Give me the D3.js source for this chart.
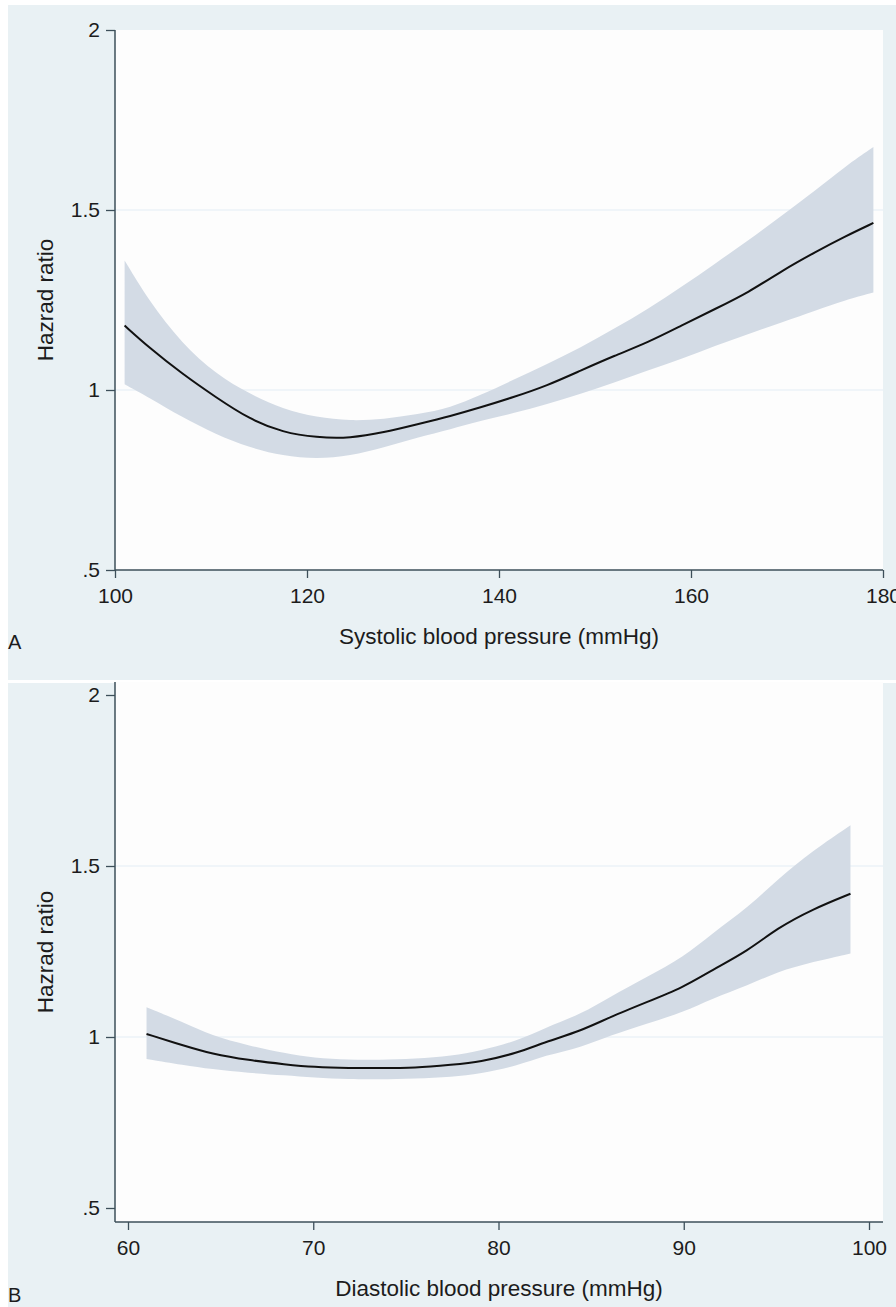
<!DOCTYPE html>
<html>
<head>
<meta charset="utf-8">
<script src="https://cdn.jsdelivr.net/npm/d3@7"></script>
<style>
  body { margin: 0; background: #fff; }
  text { font-family: 'Liberation Sans', Arial, sans-serif; fill: #1c1c1c; }
</style>
</head>
<body>
<div id="chart"></div>
<script>
// hazard ratio axis, shared by both panels
const yTicks = [0.5, 1, 1.5, 2]
const yGrid = [1, 1.5]

// panel A: systolic
const sbpTicks = [100, 120, 140, 160, 180]
const sbp = [101, 103.5, 107, 110.5, 114, 117.5, 121, 124.5, 128, 131.5, 135, 138, 141.5, 145, 148.5, 152, 155.5, 159, 162.5, 166, 169.5, 173, 176, 179]
const sbpHR = [1.179, 1.119, 1.045, 0.98, 0.919, 0.882, 0.868, 0.866, 0.882, 0.905, 0.928, 0.951, 0.98, 1.012, 1.054, 1.095, 1.132, 1.179, 1.225, 1.271, 1.332, 1.384, 1.426, 1.464]
const sbpHi = [1.36, 1.249, 1.128, 1.045, 0.989, 0.947, 0.924, 0.914, 0.919, 0.932, 0.951, 0.985, 1.028, 1.072, 1.118, 1.17, 1.225, 1.286, 1.351, 1.416, 1.485, 1.555, 1.62, 1.675]
const sbpLo = [1.016, 0.98, 0.924, 0.877, 0.84, 0.817, 0.808, 0.817, 0.84, 0.868, 0.891, 0.914, 0.935, 0.961, 0.989, 1.021, 1.054, 1.086, 1.123, 1.156, 1.188, 1.221, 1.249, 1.271]

// panel B: diastolic
const dbpTicks = [60, 70, 80, 90, 100]
const dbp = [61, 63, 64.5, 66.5, 68.5, 70, 72, 73.5, 75.5, 77.5, 79, 81, 82.5, 84.5, 86, 88, 90, 91.5, 93.5, 95, 97, 99]
const dbpHR = [1.009, 0.975, 0.951, 0.932, 0.92, 0.912, 0.909, 0.909, 0.909, 0.919, 0.927, 0.953, 0.985, 1.019, 1.058, 1.102, 1.146, 1.195, 1.253, 1.317, 1.375, 1.419]
const dbpHi = [1.087, 1.043, 1.004, 0.975, 0.952, 0.939, 0.933, 0.933, 0.936, 0.945, 0.96, 0.988, 1.027, 1.068, 1.117, 1.175, 1.234, 1.302, 1.38, 1.458, 1.546, 1.619]
const dbpLo = [0.936, 0.918, 0.906, 0.895, 0.888, 0.881, 0.876, 0.876, 0.878, 0.883, 0.893, 0.915, 0.946, 0.97, 1.004, 1.039, 1.073, 1.112, 1.151, 1.19, 1.22, 1.244]

const W = 896
const H = 1307
const axisColor = '#3d4f5a'

const svg = d3.select('#chart').append('svg')
  .attr('width', W)
  .attr('height', H)

svg.append('rect').attr('width', W).attr('height', H).attr('fill', '#fff')

const fmt = (d) => (d === 0.5 ? '.5' : String(d))

function panel(opt) {
  const g = svg.append('g')
  // outer background + plot region
  g.append('rect')
    .attr('x', 8).attr('y', opt.bgTop)
    .attr('width', W - 8).attr('height', opt.bgBottom - opt.bgTop)
    .attr('fill', '#e9f1f4')
  g.append('rect')
    .attr('x', opt.left).attr('y', opt.top)
    .attr('width', opt.right - opt.left).attr('height', opt.bottom - opt.top)
    .attr('fill', '#fdfdfd')

  const x = d3.scaleLinear().domain(opt.xDomain).range(opt.xRange)
  const y = d3.scaleLinear().domain([0.5, 2]).range(opt.yRange)

  // grid lines
  g.selectAll('.grid').data(yGrid).join('line')
    .attr('x1', opt.left).attr('x2', opt.right)
    .attr('y1', (d) => y(d)).attr('y2', (d) => y(d))
    .attr('stroke', '#e3edf6').attr('stroke-width', 1.2)

  const rows = opt.xs.map((v, i) => ({ x: v, hr: opt.hr[i], lo: opt.lo[i], hi: opt.hi[i] }))

  // basis curve smooths out the reading noise
  const area = d3.area()
    .x((d) => x(d.x))
    .y0((d) => y(d.lo))
    .y1((d) => y(d.hi))
    .curve(d3.curveBasis)
  g.append('path').attr('d', area(rows)).attr('fill', '#d3dbe5')

  const line = d3.line()
    .x((d) => x(d.x))
    .y((d) => y(d.hr))
    .curve(d3.curveBasis)
  g.append('path').attr('d', line(rows))
    .attr('fill', 'none').attr('stroke', '#111').attr('stroke-width', 2)

  // axes
  const ya = g.append('g')
    .attr('transform', `translate(${opt.left},0)`)
    .call(d3.axisLeft(y).tickValues(yTicks).tickFormat(fmt).tickSize(9).tickPadding(6))
  const xa = g.append('g')
    .attr('transform', `translate(0,${opt.bottom})`)
    .call(d3.axisBottom(x).tickValues(opt.xTicks).tickSize(8).tickPadding(10))
  ;[ya, xa].forEach((a) => {
    a.select('.domain').remove()
    a.selectAll('line').attr('stroke', axisColor).attr('stroke-width', 1.3)
    a.selectAll('text').attr('font-size', 21).attr('fill', '#1c1c1c')
      .style('font-family', "'Liberation Sans', Arial, sans-serif")
  })
  g.append('line')
    .attr('x1', opt.left).attr('x2', opt.left)
    .attr('y1', opt.top).attr('y2', opt.bottom)
    .attr('stroke', axisColor).attr('stroke-width', 1.5)
  g.append('line')
    .attr('x1', opt.left).attr('x2', opt.right)
    .attr('y1', opt.bottom).attr('y2', opt.bottom)
    .attr('stroke', axisColor).attr('stroke-width', 1.5)

  // titles
  g.append('text')
    .attr('transform', `translate(53,${(opt.top + opt.bottom) / 2}) rotate(-90)`)
    .attr('text-anchor', 'middle')
    .attr('font-size', 22.5)
    .text('Hazrad ratio')
  g.append('text')
    .attr('x', (opt.left + opt.right) / 2).attr('y', opt.bottom + 74)
    .attr('text-anchor', 'middle')
    .attr('font-size', 22.5)
    .text(opt.xTitle)
  g.append('text')
    .attr('x', 8).attr('y', opt.letterY)
    .attr('font-size', 20)
    .text(opt.letter)
}

panel({
  bgTop: 5, bgBottom: 680,
  left: 115, right: 883, top: 30, bottom: 570,
  xDomain: [100, 180], xRange: [115, 883], yRange: [570, 30],
  xTicks: sbpTicks, xs: sbp, hr: sbpHR, lo: sbpLo, hi: sbpHi,
  xTitle: 'Systolic blood pressure (mmHg)', letter: 'A', letterY: 649
})

panel({
  bgTop: 683, bgBottom: H,
  left: 115, right: 883, top: 682, bottom: 1222,
  xDomain: [60, 100], xRange: [128, 869], yRange: [1208, 695],
  xTicks: dbpTicks, xs: dbp, hr: dbpHR, lo: dbpLo, hi: dbpHi,
  xTitle: 'Diastolic blood pressure (mmHg)', letter: 'B', letterY: 1302
})
</script>
</body>
</html>
